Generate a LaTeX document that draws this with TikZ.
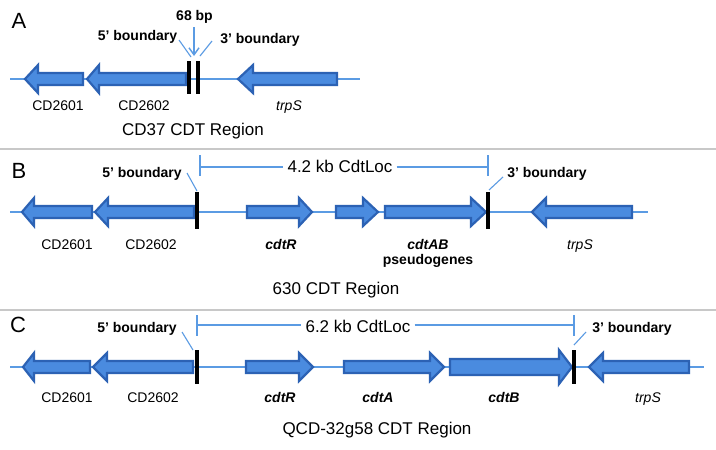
\documentclass[tikz,border=0pt]{standalone}
\usepackage{fontspec}
\setmainfont{Liberation Sans}
\usetikzlibrary{arrows.meta}
\definecolor{genefill}{HTML}{4A8BDF}
\definecolor{geneline}{HTML}{2C62B4}
\definecolor{lineblue}{HTML}{5B9BE3}
\definecolor{sepgray}{HTML}{C8C8C8}
% #1 tail x, #2 head base x, #3 tip x, #4 y, #5 body half, #6 head half
\newcommand\drawgene[6]{%
  \draw[genebox] ({#1},{#4-#5}) -- ({#2},{#4-#5}) -- ({#2},{#4-#6}) -- ({#3},{#4})
    -- ({#2},{#4+#6}) -- ({#2},{#4+#5}) -- ({#1},{#4+#5}) -- cycle;}
\tikzset{
  genebox/.style={fill=genefill, draw=geneline, line width=2.2pt, line join=miter},
  backbone/.style={draw=lineblue, line width=1.4pt},
  boundbar/.style={draw=black, line width=3.3pt},
  pointer/.style={draw=lineblue, line width=1.1pt},
  seprule/.style={draw=sepgray, line width=2pt},
  lbl/.style={font=\fontsize{14}{16}\selectfont, anchor=base, inner sep=0pt},
  blbl/.style={font=\fontsize{14}{16}\selectfont\bfseries, anchor=base, inner sep=0pt},
  bilbl/.style={font=\fontsize{14}{16}\selectfont\bfseries\itshape, anchor=base, inner sep=0pt},
  ilbl/.style={font=\fontsize{14}{16}\selectfont\itshape, anchor=base, inner sep=0pt},
  title/.style={font=\fontsize{17}{20}\selectfont, anchor=base, inner sep=0pt},
  panel/.style={font=\fontsize{22}{26}\selectfont, anchor=base, inner sep=0pt},
  span/.style={font=\fontsize{17}{20}\selectfont, anchor=base, inner xsep=4pt, inner ysep=0pt},
}
\begin{document}
\begin{tikzpicture}[x=1pt,y=-1pt]
\useasboundingbox (0,0) rectangle (716,450);
\fill[white] (0,0) rectangle (716,450);
% separators
\draw[seprule] (0,149) -- (716,149);
\draw[seprule] (0,310) -- (716,310);

%%%%%%%% Panel A
\node[panel] (pA) at (19,28) {A};
\draw[backbone] (10,79) -- (360,79);
\drawgene{83}{38}{25}{79}{6}{14}
\drawgene{186}{99}{87}{79}{6}{14}
\drawgene{337}{253}{238}{79}{6}{14}
\coordinate (a5t) at (189,61); \coordinate (a5b) at (189,94);
\coordinate (a3t) at (198,61); \coordinate (a3b) at (198,94);
\draw[boundbar] (a5t) -- (a5b);
\draw[boundbar] (a3t) -- (a3b);
\node[blbl] (a68) at (194.5,20) {68 bp};
\node[blbl] (a5) at (137.5,40) {5’ boundary};
\node[blbl] (a3) at (260,43) {3’ boundary};
\coordinate (a68s) at (194,27); \coordinate (a68e) at (194,56);
\draw[pointer, line width=1.4pt, -{Straight Barb[length=7pt,width=10pt]}] (a68s) -- (a68e);
\coordinate (a5p) at (179,40); \coordinate (a5q) at (191,57);
\draw[pointer] (a5p) -- (a5q);
\coordinate (a3p) at (212,41); \coordinate (a3q) at (200,56);
\draw[pointer] (a3p) -- (a3q);
\node[lbl] (aCD1) at (58,110) {CD2601};
\node[lbl] (aCD2) at (144,110) {CD2602};
\node[ilbl] (atrp) at (289,110) {trpS};
\node[title] (aT) at (193,135) {CD37 CDT Region};

%%%%%%%% Panel B
\node[panel] (pB) at (19,178) {B};
\draw[backbone] (10,212) -- (648,212);
\drawgene{92}{34}{22}{212}{6}{14}
\drawgene{194}{108}{95}{212}{6}{14}
\drawgene{247}{299}{312}{212}{6}{14}
\drawgene{336}{363}{378}{212}{6}{14}
\drawgene{385}{471}{486}{212}{6}{14}
\drawgene{632}{546}{532}{212}{6}{14}
\coordinate (b5t) at (197,192); \coordinate (b5b) at (197,229);
\coordinate (b3t) at (488,192); \coordinate (b3b) at (488,229);
\draw[boundbar] (b5t) -- (b5b);
\draw[boundbar] (b3t) -- (b3b);
\node[blbl] (b5) at (142,177) {5’ boundary};
\node[blbl] (b3) at (547,177) {3’ boundary};
\coordinate (b5p) at (187,173); \coordinate (b5q) at (197,191);
\draw[pointer] (b5p) -- (b5q);
\coordinate (b3p) at (503,177); \coordinate (b3q) at (489,190);
\draw[pointer] (b3p) -- (b3q);
\node[span] (bspan) at (340,172) {4.2 kb CdtLoc};
\coordinate (bL) at (200,167); \coordinate (bR) at (488,167);
\draw[pointer] (200,155) -- (200,176);
\draw[pointer] (488,155) -- (488,176);
\draw[pointer] (bL) -- (bspan.west |- bL);
\draw[pointer] (bspan.east |- bR) -- (bR);
\node[lbl] (bCD1) at (67,249) {CD2601};
\node[lbl] (bCD2) at (151,249) {CD2602};
\node[bilbl] (bR1) at (281,249) {cdtR};
\node[bilbl] (bAB) at (428,249) {cdtAB};
\node[blbl] (bps) at (428,264) {pseudogenes};
\node[ilbl] (btrp) at (580,249) {trpS};
\node[title] (bT) at (336,294) {630 CDT Region};

%%%%%%%% Panel C
\node[panel] (pC) at (18,332) {C};
\draw[backbone] (10,367) -- (704,367);
\drawgene{90}{34}{23}{367}{6}{14}
\drawgene{193}{107}{93}{367}{6}{14}
\drawgene{246}{299}{313}{367}{6}{14}
\drawgene{344}{430}{444}{367}{6}{14}
\drawgene{450}{559}{572}{367}{8}{17}
\drawgene{689}{603}{589}{367}{6}{14}
\coordinate (c5t) at (197,350); \coordinate (c5b) at (197,384);
\coordinate (c3t) at (574,350); \coordinate (c3b) at (574,384);
\draw[boundbar] (c5t) -- (c5b);
\draw[boundbar] (c3t) -- (c3b);
\node[blbl] (c5) at (137,332) {5’ boundary};
\node[blbl] (c3) at (632,332) {3’ boundary};
\coordinate (c5p) at (182,332); \coordinate (c5q) at (193,350);
\draw[pointer] (c5p) -- (c5q);
\coordinate (c3p) at (586,332); \coordinate (c3q) at (574,345);
\draw[pointer] (c3p) -- (c3q);
\node[span] (cspan) at (358,332) {6.2 kb CdtLoc};
\coordinate (cL) at (197,325); \coordinate (cR) at (574,325);
\draw[pointer] (197,315) -- (197,336);
\draw[pointer] (574,315) -- (574,336);
\draw[pointer] (cL) -- (cspan.west |- cL);
\draw[pointer] (cspan.east |- cR) -- (cR);
\node[lbl] (cCD1) at (67,402) {CD2601};
\node[lbl] (cCD2) at (153,402) {CD2602};
\node[bilbl] (cR1) at (280,402) {cdtR};
\node[bilbl] (cA) at (378,402) {cdtA};
\node[bilbl] (cB) at (504,402) {cdtB};
\node[ilbl] (ctrp) at (648,402) {trpS};
\node[title] (cT) at (377,434) {QCD-32g58 CDT Region};
\end{tikzpicture}
\end{document}
